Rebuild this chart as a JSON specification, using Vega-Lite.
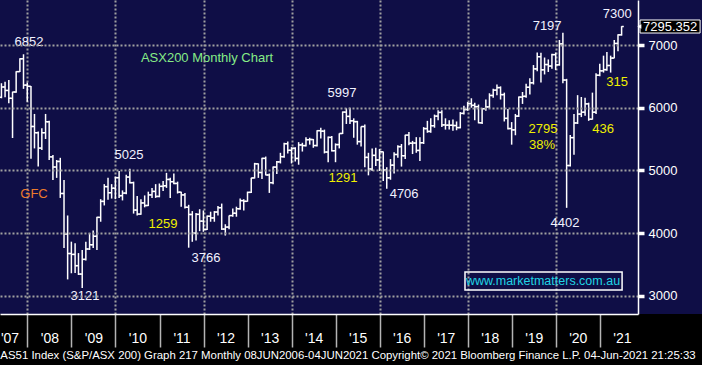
{
  "$schema": "https://vega.github.io/schema/vega-lite/v6.json",
  "width": 638,
  "height": 314,
  "autosize": {"type": "none"},
  "padding": {"left": 0, "top": 0, "right": 64, "bottom": 51},
  "background": "#000000",
  "view": {"fill": "#0f0e46", "stroke": null},
  "config": {"font": "Liberation Sans", "text": {"font": "Liberation Sans"}},
  "datasets": {
    "ohlc": [
      {"d":"2007-05-31","o":6165,"h":6390,"l":6150,"c":6330},
      {"d":"2007-06-30","o":6330,"h":6415,"l":6165,"c":6275},
      {"d":"2007-07-31","o":6275,"h":6440,"l":6070,"c":6150},
      {"d":"2007-08-31","o":6150,"h":6255,"l":5516,"c":6250},
      {"d":"2007-09-30","o":6250,"h":6580,"l":6240,"c":6575},
      {"d":"2007-10-31","o":6575,"h":6790,"l":6570,"c":6780},
      {"d":"2007-11-30","o":6780,"h":6852,"l":6300,"c":6360},
      {"d":"2007-12-31","o":6360,"h":6400,"l":6096,"c":6340},
      {"d":"2008-01-31","o":6340,"h":6345,"l":5187,"c":5700},
      {"d":"2008-02-29","o":5700,"h":5900,"l":5350,"c":5600},
      {"d":"2008-03-31","o":5600,"h":5620,"l":5060,"c":5355},
      {"d":"2008-04-30","o":5355,"h":5670,"l":5325,"c":5600},
      {"d":"2008-05-31","o":5600,"h":5900,"l":5500,"c":5775},
      {"d":"2008-06-30","o":5775,"h":5790,"l":5165,"c":5215},
      {"d":"2008-07-31","o":5215,"h":5245,"l":4846,"c":5053},
      {"d":"2008-08-31","o":5053,"h":5165,"l":4880,"c":5142},
      {"d":"2008-09-30","o":5142,"h":5200,"l":4560,"c":4631},
      {"d":"2008-10-31","o":4631,"h":4846,"l":3760,"c":3983},
      {"d":"2008-11-30","o":3983,"h":4280,"l":3260,"c":3673},
      {"d":"2008-12-31","o":3673,"h":3862,"l":3358,"c":3659},
      {"d":"2009-01-31","o":3659,"h":3836,"l":3362,"c":3479},
      {"d":"2009-02-28","o":3479,"h":3680,"l":3330,"c":3345},
      {"d":"2009-03-31","o":3345,"h":3730,"l":3121,"c":3580},
      {"d":"2009-04-30","o":3580,"h":3862,"l":3560,"c":3745},
      {"d":"2009-05-31","o":3745,"h":4000,"l":3730,"c":3813},
      {"d":"2009-06-30","o":3813,"h":4040,"l":3760,"c":3948},
      {"d":"2009-07-31","o":3948,"h":4260,"l":3730,"c":4250},
      {"d":"2009-08-31","o":4250,"h":4540,"l":4180,"c":4505},
      {"d":"2009-09-30","o":4505,"h":4780,"l":4440,"c":4740},
      {"d":"2009-10-31","o":4740,"h":4880,"l":4530,"c":4643},
      {"d":"2009-11-30","o":4643,"h":4780,"l":4550,"c":4715},
      {"d":"2009-12-31","o":4715,"h":4900,"l":4540,"c":4883},
      {"d":"2010-01-31","o":4883,"h":4990,"l":4560,"c":4596},
      {"d":"2010-02-28","o":4596,"h":4680,"l":4520,"c":4637},
      {"d":"2010-03-31","o":4637,"h":4930,"l":4620,"c":4893},
      {"d":"2010-04-30","o":4893,"h":5025,"l":4790,"c":4803},
      {"d":"2010-05-31","o":4803,"h":4820,"l":4310,"c":4367},
      {"d":"2010-06-30","o":4367,"h":4590,"l":4280,"c":4302},
      {"d":"2010-07-31","o":4302,"h":4540,"l":4290,"c":4480},
      {"d":"2010-08-31","o":4480,"h":4600,"l":4410,"c":4439},
      {"d":"2010-09-30","o":4439,"h":4660,"l":4430,"c":4608},
      {"d":"2010-10-31","o":4608,"h":4720,"l":4560,"c":4664},
      {"d":"2010-11-30","o":4664,"h":4780,"l":4560,"c":4584},
      {"d":"2010-12-31","o":4584,"h":4790,"l":4570,"c":4745},
      {"d":"2011-01-31","o":4745,"h":4830,"l":4670,"c":4754},
      {"d":"2011-02-28","o":4754,"h":4960,"l":4720,"c":4855},
      {"d":"2011-03-31","o":4855,"h":4880,"l":4560,"c":4819},
      {"d":"2011-04-30","o":4819,"h":4950,"l":4780,"c":4791},
      {"d":"2011-05-31","o":4791,"h":4820,"l":4630,"c":4652},
      {"d":"2011-06-30","o":4652,"h":4660,"l":4420,"c":4608},
      {"d":"2011-07-31","o":4608,"h":4640,"l":4390,"c":4411},
      {"d":"2011-08-31","o":4411,"h":4450,"l":3766,"c":4296},
      {"d":"2011-09-30","o":4296,"h":4350,"l":3860,"c":3998},
      {"d":"2011-10-31","o":3998,"h":4320,"l":3880,"c":4298},
      {"d":"2011-11-30","o":4298,"h":4380,"l":4030,"c":4190},
      {"d":"2011-12-31","o":4190,"h":4360,"l":4020,"c":4057},
      {"d":"2012-01-31","o":4057,"h":4280,"l":4050,"c":4268},
      {"d":"2012-02-29","o":4268,"h":4340,"l":4180,"c":4241},
      {"d":"2012-03-31","o":4241,"h":4350,"l":4180,"c":4335},
      {"d":"2012-04-30","o":4335,"h":4430,"l":4280,"c":4404},
      {"d":"2012-05-31","o":4404,"h":4470,"l":4050,"c":4063},
      {"d":"2012-06-30","o":4063,"h":4140,"l":3960,"c":4095},
      {"d":"2012-07-31","o":4095,"h":4280,"l":4060,"c":4278},
      {"d":"2012-08-31","o":4278,"h":4390,"l":4260,"c":4316},
      {"d":"2012-09-30","o":4316,"h":4420,"l":4260,"c":4387},
      {"d":"2012-10-31","o":4387,"h":4550,"l":4370,"c":4517},
      {"d":"2012-11-30","o":4517,"h":4540,"l":4360,"c":4506},
      {"d":"2012-12-31","o":4506,"h":4660,"l":4500,"c":4649},
      {"d":"2013-01-31","o":4649,"h":4880,"l":4640,"c":4879},
      {"d":"2013-02-28","o":4879,"h":5120,"l":4870,"c":5104},
      {"d":"2013-03-31","o":5104,"h":5110,"l":4880,"c":4966},
      {"d":"2013-04-30","o":4966,"h":5200,"l":4860,"c":5191},
      {"d":"2013-05-31","o":5191,"h":5220,"l":4920,"c":4926},
      {"d":"2013-06-30","o":4926,"h":4950,"l":4640,"c":4803},
      {"d":"2013-07-31","o":4803,"h":5060,"l":4780,"c":5052},
      {"d":"2013-08-31","o":5052,"h":5150,"l":4940,"c":5135},
      {"d":"2013-09-30","o":5135,"h":5280,"l":5110,"c":5218},
      {"d":"2013-10-31","o":5218,"h":5440,"l":5200,"c":5425},
      {"d":"2013-11-30","o":5425,"h":5460,"l":5270,"c":5320},
      {"d":"2013-12-31","o":5320,"h":5370,"l":5110,"c":5352},
      {"d":"2014-01-31","o":5352,"h":5370,"l":5140,"c":5190},
      {"d":"2014-02-28","o":5190,"h":5450,"l":5090,"c":5405},
      {"d":"2014-03-31","o":5405,"h":5440,"l":5300,"c":5395},
      {"d":"2014-04-30","o":5395,"h":5530,"l":5380,"c":5489},
      {"d":"2014-05-31","o":5489,"h":5520,"l":5410,"c":5492},
      {"d":"2014-06-30","o":5492,"h":5500,"l":5360,"c":5396},
      {"d":"2014-07-31","o":5396,"h":5640,"l":5380,"c":5633},
      {"d":"2014-08-31","o":5633,"h":5680,"l":5510,"c":5625},
      {"d":"2014-09-30","o":5625,"h":5650,"l":5270,"c":5292},
      {"d":"2014-10-31","o":5292,"h":5540,"l":5130,"c":5526},
      {"d":"2014-11-30","o":5526,"h":5550,"l":5300,"c":5313},
      {"d":"2014-12-31","o":5313,"h":5430,"l":5130,"c":5411},
      {"d":"2015-01-31","o":5411,"h":5590,"l":5350,"c":5588},
      {"d":"2015-02-28","o":5588,"h":5940,"l":5580,"c":5929},
      {"d":"2015-03-31","o":5929,"h":5990,"l":5740,"c":5861},
      {"d":"2015-04-30","o":5861,"h":5997,"l":5740,"c":5790},
      {"d":"2015-05-31","o":5790,"h":5830,"l":5520,"c":5777},
      {"d":"2015-06-30","o":5777,"h":5790,"l":5410,"c":5459},
      {"d":"2015-07-31","o":5459,"h":5700,"l":5380,"c":5699},
      {"d":"2015-08-31","o":5699,"h":5730,"l":5050,"c":5207},
      {"d":"2015-09-30","o":5207,"h":5280,"l":4920,"c":5021},
      {"d":"2015-10-31","o":5021,"h":5350,"l":4990,"c":5239},
      {"d":"2015-11-30","o":5239,"h":5360,"l":5070,"c":5166},
      {"d":"2015-12-31","o":5166,"h":5340,"l":4990,"c":5296},
      {"d":"2016-01-31","o":5296,"h":5300,"l":4830,"c":5005},
      {"d":"2016-02-29","o":5005,"h":5050,"l":4706,"c":4881},
      {"d":"2016-03-31","o":4881,"h":5180,"l":4850,"c":5083},
      {"d":"2016-04-30","o":5083,"h":5290,"l":4950,"c":5253},
      {"d":"2016-05-31","o":5253,"h":5400,"l":5200,"c":5378},
      {"d":"2016-06-30","o":5378,"h":5420,"l":5060,"c":5233},
      {"d":"2016-07-31","o":5233,"h":5570,"l":5180,"c":5562},
      {"d":"2016-08-31","o":5562,"h":5610,"l":5400,"c":5433},
      {"d":"2016-09-30","o":5433,"h":5470,"l":5260,"c":5436},
      {"d":"2016-10-31","o":5436,"h":5530,"l":5280,"c":5318},
      {"d":"2016-11-30","o":5318,"h":5530,"l":5150,"c":5440},
      {"d":"2016-12-31","o":5440,"h":5690,"l":5420,"c":5666},
      {"d":"2017-01-31","o":5666,"h":5790,"l":5600,"c":5621},
      {"d":"2017-02-28","o":5621,"h":5830,"l":5600,"c":5712},
      {"d":"2017-03-31","o":5712,"h":5890,"l":5680,"c":5865},
      {"d":"2017-04-30","o":5865,"h":5960,"l":5800,"c":5924},
      {"d":"2017-05-31","o":5924,"h":5960,"l":5690,"c":5725},
      {"d":"2017-06-30","o":5725,"h":5830,"l":5650,"c":5721},
      {"d":"2017-07-31","o":5721,"h":5800,"l":5650,"c":5720},
      {"d":"2017-08-31","o":5720,"h":5810,"l":5630,"c":5715},
      {"d":"2017-09-30","o":5715,"h":5780,"l":5640,"c":5682},
      {"d":"2017-10-31","o":5682,"h":5930,"l":5670,"c":5909},
      {"d":"2017-11-30","o":5909,"h":6030,"l":5890,"c":5970},
      {"d":"2017-12-31","o":5970,"h":6090,"l":5950,"c":6065},
      {"d":"2018-01-31","o":6065,"h":6150,"l":6000,"c":6037},
      {"d":"2018-02-28","o":6037,"h":6080,"l":5800,"c":6016},
      {"d":"2018-03-31","o":6016,"h":6050,"l":5750,"c":5759},
      {"d":"2018-04-30","o":5759,"h":5990,"l":5740,"c":5983},
      {"d":"2018-05-31","o":5983,"h":6130,"l":5950,"c":6012},
      {"d":"2018-06-30","o":6012,"h":6230,"l":5990,"c":6195},
      {"d":"2018-07-31","o":6195,"h":6300,"l":6160,"c":6280},
      {"d":"2018-08-31","o":6280,"h":6370,"l":6200,"c":6320},
      {"d":"2018-09-30","o":6320,"h":6340,"l":6130,"c":6208},
      {"d":"2018-10-31","o":6208,"h":6240,"l":5780,"c":5830},
      {"d":"2018-11-30","o":5830,"h":5980,"l":5650,"c":5667},
      {"d":"2018-12-31","o":5667,"h":5770,"l":5410,"c":5646},
      {"d":"2019-01-31","o":5646,"h":5900,"l":5560,"c":5865},
      {"d":"2019-02-28","o":5865,"h":6180,"l":5850,"c":6169},
      {"d":"2019-03-31","o":6169,"h":6250,"l":6060,"c":6181},
      {"d":"2019-04-30","o":6181,"h":6380,"l":6160,"c":6326},
      {"d":"2019-05-31","o":6326,"h":6470,"l":6210,"c":6397},
      {"d":"2019-06-30","o":6397,"h":6680,"l":6370,"c":6619},
      {"d":"2019-07-31","o":6619,"h":6880,"l":6580,"c":6813},
      {"d":"2019-08-31","o":6813,"h":6875,"l":6400,"c":6604},
      {"d":"2019-09-30","o":6604,"h":6800,"l":6530,"c":6688},
      {"d":"2019-10-31","o":6688,"h":6770,"l":6570,"c":6664},
      {"d":"2019-11-30","o":6664,"h":6860,"l":6620,"c":6846},
      {"d":"2019-12-31","o":6846,"h":6880,"l":6600,"c":6684},
      {"d":"2020-01-31","o":6684,"h":7080,"l":6670,"c":7017},
      {"d":"2020-02-29","o":7017,"h":7197,"l":6390,"c":6441},
      {"d":"2020-03-31","o":6441,"h":6460,"l":4402,"c":5077},
      {"d":"2020-04-30","o":5077,"h":5564,"l":5060,"c":5522},
      {"d":"2020-05-31","o":5522,"h":5900,"l":5250,"c":5756},
      {"d":"2020-06-30","o":5756,"h":6200,"l":5740,"c":5898},
      {"d":"2020-07-31","o":5898,"h":6170,"l":5850,"c":5928},
      {"d":"2020-08-31","o":5928,"h":6160,"l":5870,"c":6061},
      {"d":"2020-09-30","o":6061,"h":6080,"l":5790,"c":5816},
      {"d":"2020-10-31","o":5816,"h":6240,"l":5810,"c":5928},
      {"d":"2020-11-30","o":5928,"h":6550,"l":5900,"c":6518},
      {"d":"2020-12-31","o":6518,"h":6700,"l":6500,"c":6588},
      {"d":"2021-01-31","o":6588,"h":6830,"l":6560,"c":6607},
      {"d":"2021-02-28","o":6607,"h":6890,"l":6590,"c":6673},
      {"d":"2021-03-31","o":6673,"h":6830,"l":6560,"c":6791},
      {"d":"2021-04-30","o":6791,"h":7080,"l":6790,"c":7025},
      {"d":"2021-05-31","o":7025,"h":7170,"l":6900,"c":7162},
      {"d":"2021-06-30","o":7162,"h":7300,"l":7150,"c":7295}
    ],
    "notes": [
      {"t":"6852","d":"2008-01-14","v":7048,"k":"w"},
      {"t":"ASX200 Monthly Chart","d":"2012-01-30","v":6793,"k":"g"},
      {"t":"5025","d":"2010-04-23","v":5245,"k":"w"},
      {"t":"GFC","d":"2008-02-25","v":4623,"k":"o"},
      {"t":"1259","d":"2011-01-30","v":4144,"k":"y"},
      {"t":"3121","d":"2009-04-23","v":2996,"k":"w"},
      {"t":"3766","d":"2012-01-22","v":3602,"k":"w"},
      {"t":"5997","d":"2015-02-23","v":6234,"k":"w"},
      {"t":"1291","d":"2015-03-03","v":4878,"k":"y"},
      {"t":"4706","d":"2016-07-22","v":4623,"k":"w"},
      {"t":"7197","d":"2019-10-21","v":7303,"k":"w"},
      {"t":"7300","d":"2021-05-24","v":7495,"k":"w"},
      {"t":"315","d":"2021-05-24","v":6410,"k":"y"},
      {"t":"2795","d":"2019-09-17","v":5660,"k":"y"},
      {"t":"38%","d":"2019-09-09","v":5405,"k":"y"},
      {"t":"436","d":"2021-01-28","v":5660,"k":"y"},
      {"t":"4402","d":"2020-03-17","v":4160,"k":"w"}
    ]
  },
  "layer": [
    {
      "data": {"values": [{}]},
      "mark": {"type": "rect", "fill": "#0f0e46"},
      "encoding": {
        "x": {"datum": {"year": 2021, "month": 11, "date": 13}, "type": "temporal", "title": null},
        "x2": {"datum": {"year": 2024, "month": 1, "date": 1}},
        "y": {"datum": 7718, "type": "quantitative", "title": null},
        "y2": {"datum": 2708}
      }
    },
    {
      "data": {"name": "ohlc"},
      "mark": {"type": "rule", "color": "#ffffff", "strokeWidth": 1.5},
      "encoding": {
        "x": {
          "field": "d", "type": "temporal", "title": null,
          "scale": {"domain": [{"year": 2007, "month": 5, "date": 19}, {"year": 2021, "month": 11, "date": 13}], "nice": false, "padding": 0},
          "axis": {
            "orient": "bottom",
            "values": [
              {"year": 2008, "month": 1, "date": 1}, {"year": 2009, "month": 1, "date": 1},
              {"year": 2010, "month": 1, "date": 1}, {"year": 2011, "month": 1, "date": 1},
              {"year": 2012, "month": 1, "date": 1}, {"year": 2013, "month": 1, "date": 1},
              {"year": 2014, "month": 1, "date": 1}, {"year": 2015, "month": 1, "date": 1},
              {"year": 2016, "month": 1, "date": 1}, {"year": 2017, "month": 1, "date": 1},
              {"year": 2018, "month": 1, "date": 1}, {"year": 2019, "month": 1, "date": 1},
              {"year": 2020, "month": 1, "date": 1}, {"year": 2021, "month": 1, "date": 1}
            ],
            "domain": true, "domainColor": "#ffffff", "domainWidth": 1.5,
            "ticks": true, "tickColor": "#b4b4b4", "tickWidth": 1.5, "tickSize": 33,
            "labelExpr": "\"'\" + timeFormat(datum.value, '%y')",
            "labelColor": "#ffffff", "labelFont": "Liberation Sans", "labelFontSize": 14,
            "labelOffset": 22, "labelPadding": -16, "labelAlign": "center", "labelBaseline": "top",
            "labelOverlap": false, "labelFlush": false, "labelBound": false,
            "grid": true, "gridColor": "#a0a0a0", "gridDash": [2, 2], "gridWidth": 2,
            "gridOpacity": {"condition": {"test": "year(datum.value) % 2 === 0", "value": 1}, "value": 0},
            "zindex": 0
          }
        },
        "y": {
          "field": "l", "type": "quantitative", "title": null,
          "scale": {"domain": [2708, 7718], "zero": false, "nice": false, "padding": 0},
          "axis": {
            "orient": "right",
            "values": [3000, 3500, 4000, 4500, 5000, 5500, 6000, 6500, 7000, 7500],
            "domain": true, "domainColor": "#ffffff", "domainWidth": 1.5,
            "ticks": true, "tickColor": "#ffffff", "tickSize": 6,
            "tickWidth": {"condition": {"test": "datum.value % 1000 === 0", "value": 3.5}, "value": 1.2},
            "labelExpr": "datum.value % 1000 === 0 && datum.value < 7500 ? format(datum.value, 'd') : ''",
            "labelColor": "#ffffff", "labelFont": "Liberation Sans", "labelFontSize": 13, "labelPadding": 4,
            "labelBaseline": "middle", "labelOverlap": false, "labelFlush": false, "labelBound": false,
            "grid": true, "gridColor": "#a0a0a0", "gridDash": [2, 2], "gridWidth": 2,
            "gridOpacity": {"condition": {"test": "datum.value % 1000 === 0 && datum.value < 7500", "value": 1}, "value": 0},
            "zindex": 1
          }
        },
        "y2": {"field": "h"}
      }
    },
    {
      "data": {"name": "ohlc"},
      "mark": {"type": "rule", "color": "#ffffff", "strokeWidth": 1.5, "xOffset": -2.2, "x2Offset": 0},
      "encoding": {
        "x": {"field": "d", "type": "temporal", "title": null},
        "x2": {"field": "d"},
        "y": {"field": "o", "type": "quantitative", "title": null}
      }
    },
    {
      "data": {"name": "ohlc"},
      "mark": {"type": "rule", "color": "#ffffff", "strokeWidth": 1.5, "xOffset": 0, "x2Offset": 2.2},
      "encoding": {
        "x": {"field": "d", "type": "temporal", "title": null},
        "x2": {"field": "d"},
        "y": {"field": "c", "type": "quantitative", "title": null}
      }
    },
    {
      "data": {"name": "notes"},
      "mark": {"type": "text", "fontSize": 13, "align": "center", "baseline": "middle", "font": "Liberation Sans"},
      "encoding": {
        "x": {"field": "d", "type": "temporal", "title": null},
        "y": {"field": "v", "type": "quantitative", "title": null},
        "text": {"field": "t"},
        "color": {"field": "k", "type": "nominal", "legend": null,
          "scale": {"domain": ["w", "y", "g", "o", "c"], "range": ["#f2f2ff", "#f0f000", "#86ec86", "#ec7a2c", "#20d4e4"]}}
      }
    },
    {
      "data": {"values": [{}]},
      "mark": {"type": "rect", "fill": "transparent", "stroke": "#ffffff", "strokeWidth": 1.5},
      "encoding": {
        "x": {"datum": {"year": 2017, "month": 12, "date": 9}, "type": "temporal", "title": null},
        "x2": {"datum": {"year": 2021, "month": 7, "date": 4}},
        "y": {"datum": 3378, "type": "quantitative", "title": null},
        "y2": {"datum": 3091}
      }
    },
    {
      "data": {"values": [{}]},
      "mark": {"type": "text", "fontSize": 12.5, "align": "center", "baseline": "middle", "color": "#20d4e4", "font": "Liberation Sans"},
      "encoding": {
        "x": {"datum": {"year": 2019, "month": 9, "date": 17}, "type": "temporal", "title": null},
        "y": {"datum": 3235, "type": "quantitative", "title": null},
        "text": {"value": "www.marketmatters.com.au"}
      }
    },
    {
      "data": {"values": [{}]},
      "mark": {"type": "rect", "fill": "#000000", "stroke": "#ffffff", "strokeWidth": 1},
      "encoding": {
        "x": {"datum": {"year": 2021, "month": 11, "date": 30}, "type": "temporal", "title": null},
        "x2": {"datum": {"year": 2023, "month": 4, "date": 12}},
        "y": {"datum": 7399, "type": "quantitative", "title": null},
        "y2": {"datum": 7191}
      }
    },
    {
      "data": {"values": [{}]},
      "mark": {"type": "point", "shape": "triangle-left", "filled": true, "color": "#ffffff", "size": 22, "opacity": 1},
      "encoding": {
        "x": {"datum": {"year": 2021, "month": 11, "date": 24}, "type": "temporal", "title": null},
        "y": {"datum": 7295, "type": "quantitative", "title": null}
      }
    },
    {
      "data": {"values": [{}]},
      "mark": {"type": "text", "fontSize": 13, "align": "center", "baseline": "middle", "color": "#ffffff", "font": "Liberation Sans"},
      "encoding": {
        "x": {"datum": {"year": 2022, "month": 8, "date": 7}, "type": "temporal", "title": null},
        "y": {"datum": 7292, "type": "quantitative", "title": null},
        "text": {"value": "7295.352"}
      }
    },
    {
      "data": {"values": [{}]},
      "mark": {"type": "text", "fontSize": 14, "align": "center", "baseline": "middle", "color": "#ffffff", "font": "Liberation Sans"},
      "encoding": {
        "x": {"datum": {"year": 2007, "month": 8, "date": 10}, "type": "temporal", "title": null},
        "y": {"datum": 2309, "type": "quantitative", "title": null},
        "text": {"value": "'07"}
      }
    },
    {
      "data": {"values": [{}]},
      "mark": {"type": "text", "fontSize": 11.4, "align": "left", "baseline": "middle", "color": "#ffffff", "font": "Liberation Sans"},
      "encoding": {
        "x": {"datum": {"year": 2007, "month": 5, "date": 22}, "type": "temporal", "title": null},
        "y": {"datum": 2038, "type": "quantitative", "title": null},
        "text": {"value": "AS51 Index (S&P/ASX 200) Graph 217  Monthly 08JUN2006-04JUN2021 Copyright\u00a9 2021 Bloomberg Finance L.P. 04-Jun-2021 21:25:33"}
      }
    }
  ]
}
